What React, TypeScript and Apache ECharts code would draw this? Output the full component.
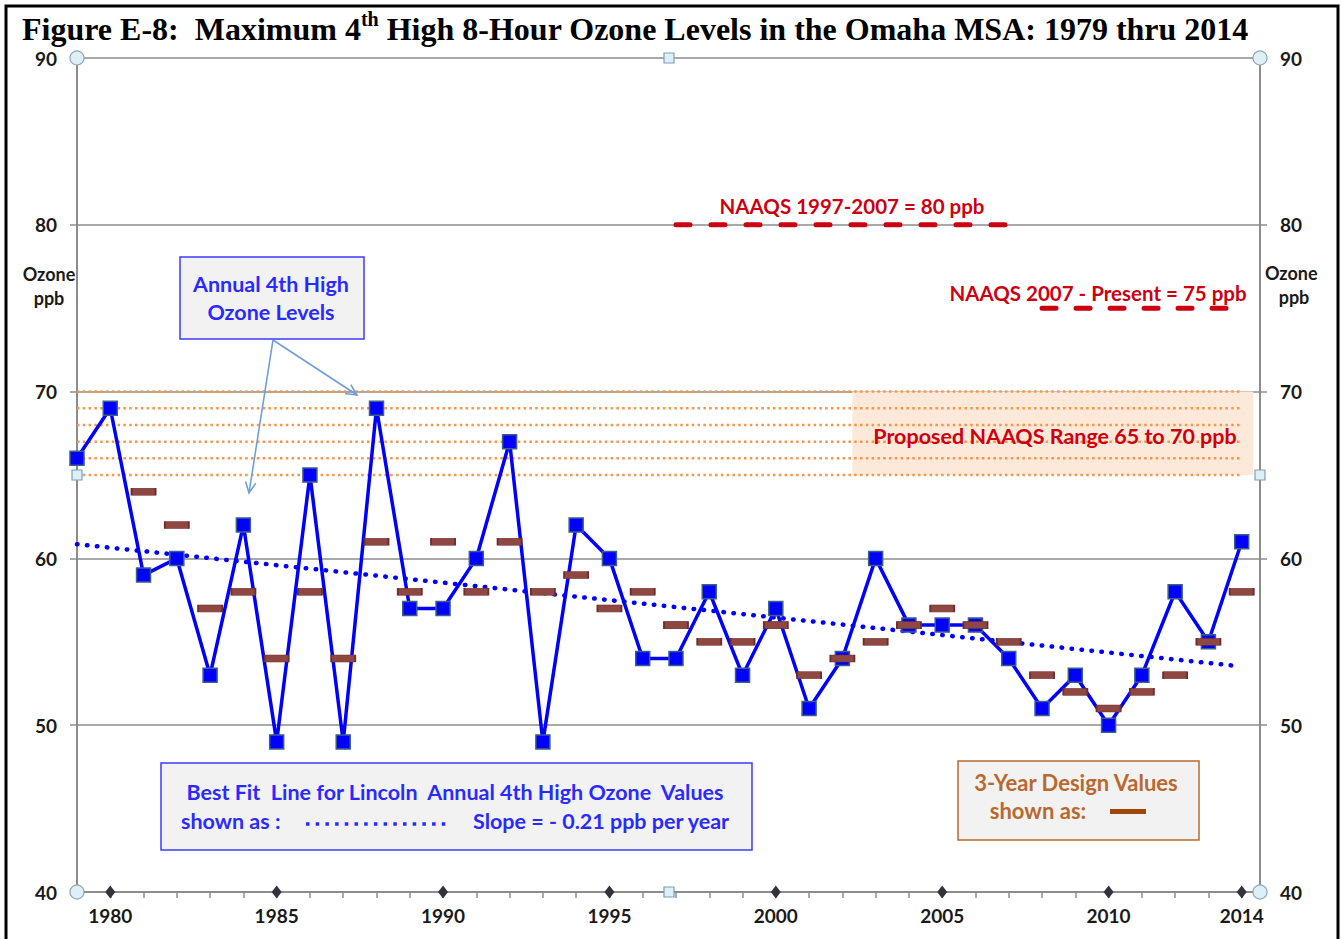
import React, { useEffect, useRef } from 'react';
import * as echarts from 'echarts';

// ---- data ----
const years = [1979, 1980, 1981, 1982, 1983, 1984, 1985, 1986, 1987, 1988, 1989, 1990, 1991, 1992, 1993, 1994, 1995, 1996, 1997, 1998, 1999, 2000, 2001, 2002, 2003, 2004, 2005, 2006, 2007, 2008, 2009, 2010, 2011, 2012, 2013, 2014];
const annual4thHigh = [66, 69, 59, 60, 53, 62, 49, 65, 49, 69, 57, 57, 60, 67, 49, 62, 60, 54, 54, 58, 53, 57, 51, 54, 60, 56, 56, 56, 54, 51, 53, 50, 53, 58, 55, 61];
const designYears = [1981, 1982, 1983, 1984, 1985, 1986, 1987, 1988, 1989, 1990, 1991, 1992, 1993, 1994, 1995, 1996, 1997, 1998, 1999, 2000, 2001, 2002, 2003, 2004, 2005, 2006, 2007, 2008, 2009, 2010, 2011, 2012, 2013, 2014];
const designValues = [64, 62, 57, 58, 54, 58, 54, 61, 58, 61, 58, 61, 58, 59, 57, 58, 56, 55, 55, 56, 53, 54, 55, 56, 57, 56, 55, 53, 52, 51, 52, 53, 55, 58];
const trendStart = [1979, 60.85];
const trendEnd = [2013.85, 53.55];
const labelYears = [1980, 1985, 1990, 1995, 2000, 2005, 2010, 2014];
const rangeLevels = [65, 66, 67, 68, 69, 70];
const rangeLineSpan = [1979, 2014];
const rangeShadeSpan = [2002.3, 2014.35];
const naaqs80 = { from: 1997, to: 2007, value: 80 };
const naaqs75 = { from: 2008, to: 2014, value: 75 };

const AXIS_FONT = 'Lato, "Open Sans", sans-serif';
const NOTE_FONT = 'Lato, "Open Sans", sans-serif';
const RED = '#cc0011';
const BLUE_TXT = '#2a2aff';
const BROWN_TXT = '#b8692e';
const GRAY = '#8c8c8c';

export default function App() {
  const ref = useRef<HTMLDivElement>(null);
  useEffect(() => {
    if (!ref.current) return;
    const chart = echarts.init(ref.current, undefined, { renderer: 'svg' });

    const axisLabelStyle = { fontSize: 19, fontWeight: 'bold', color: '#1a1a1a', fontFamily: AXIS_FONT };

    const rangeSeries = rangeLevels.map((lv) => ({
      type: 'line',
      data: [[rangeLineSpan[0], lv], [rangeLineSpan[1], lv]],
      symbol: 'none',
      z: 3,
      silent: true,
      lineStyle: { color: '#f79646', width: 2.5, type: [2.5, 3.3] },
    }));

    const handleCircle = (x: number, y: number) => ({
      type: 'circle', shape: { cx: x, cy: y, r: 7 }, z: 100,
      style: { fill: '#dcf0f6', stroke: '#8aa6b6', lineWidth: 1.2 },
    });
    const handleSquare = (x: number, y: number) => ({
      type: 'rect', shape: { x: x - 5, y: y - 5, width: 10, height: 10 }, z: 100,
      style: { fill: '#dcf0f6', stroke: '#7f9fb5', lineWidth: 1.2 },
    });

    const arrowColor = '#6f9fd8';
    const arrow = (x1: number, y1: number, x2: number, y2: number) => {
      const ang = Math.atan2(y2 - y1, x2 - x1);
      const L = 12, W = 0.45;
      return [
        { type: 'line', shape: { x1, y1, x2, y2 }, z: 50, style: { stroke: arrowColor, lineWidth: 1.6 } },
        {
          type: 'polyline', z: 50,
          shape: { points: [[x2 - L * Math.cos(ang - W), y2 - L * Math.sin(ang - W)], [x2, y2], [x2 - L * Math.cos(ang + W), y2 - L * Math.sin(ang + W)]] },
          style: { stroke: arrowColor, lineWidth: 1.6, fill: 'none' },
        },
      ];
    };

    const txt = (x: number, y: number, text: string, size: number, color: string, align = 'center', weight: any = 'normal', family = NOTE_FONT) => ({
      type: 'text', x, y, z: 60,
      style: { text, fontSize: size, fontFamily: family, fontWeight: weight, fill: color, align, verticalAlign: 'middle' },
    });

    const option = {
      animation: false,
      backgroundColor: '#ffffff',
      grid: { left: 77, right: 82, top: 58, bottom: 47, containLabel: false },
      xAxis: {
        type: 'value', min: 1979, max: 2014.55, interval: 1,
        axisLine: { show: true, onZero: false, lineStyle: { color: GRAY, width: 2 } },
        axisTick: { show: true, length: 6, lineStyle: { color: GRAY, width: 1.5 } },
        axisLabel: {
          ...axisLabelStyle, margin: 14,
          formatter: (v: number) => (labelYears.includes(v) ? String(v) : ''),
        },
        splitLine: { show: false },
      },
      yAxis: [
        {
          type: 'value', min: 40, max: 90, interval: 10, position: 'left',
          axisLine: { show: true, lineStyle: { color: GRAY, width: 2 } },
          axisTick: { show: true, length: 7, lineStyle: { color: GRAY, width: 1.5 } },
          axisLabel: { ...axisLabelStyle, margin: 20 },
          splitLine: { show: true, lineStyle: { color: GRAY, width: 1.5 } },
        },
        {
          type: 'value', min: 40, max: 90, interval: 10, position: 'right',
          axisLine: { show: true, lineStyle: { color: GRAY, width: 2 } },
          axisTick: { show: true, length: 7, lineStyle: { color: GRAY, width: 1.5 } },
          axisLabel: { ...axisLabelStyle, margin: 20 },
          splitLine: { show: false },
        },
      ],
      series: [
        {
          type: 'line', data: [], z: 1, silent: true,
          markArea: {
            silent: true,
            itemStyle: { color: '#fde9d9' },
            data: [[{ xAxis: rangeShadeSpan[0], yAxis: rangeLevels[0] }, { xAxis: rangeShadeSpan[1], yAxis: rangeLevels[rangeLevels.length - 1] }]],
          },
        },
        ...rangeSeries,
        {
          type: 'line', symbol: 'none', z: 4, silent: true,
          data: [[naaqs80.from, naaqs80.value], [naaqs80.to, naaqs80.value]],
          lineStyle: { color: RED, width: 5, type: [14, 21], cap: 'round' },
        },
        {
          type: 'line', symbol: 'none', z: 4, silent: true,
          data: [[naaqs75.from, naaqs75.value], [naaqs75.to, naaqs75.value]],
          lineStyle: { color: RED, width: 5, type: [14, 20], cap: 'round' },
        },
        {
          type: 'line', symbol: 'none', z: 5, silent: true,
          data: [trendStart, trendEnd],
          lineStyle: { color: '#0000ff', width: 4.5, type: [0.5, 9.5], cap: 'round' },
        },
        {
          type: 'line', z: 6,
          data: years.map((y, i) => [y, annual4thHigh[i]]),
          symbol: 'rect', symbolSize: 14,
          itemStyle: { color: '#0000ff', borderColor: '#3a5f8a', borderWidth: 1.5 },
          lineStyle: { color: '#0000ff', width: 3.5 },
        },
        {
          type: 'scatter', z: 7,
          data: designYears.map((y, i) => [y, designValues[i]]),
          symbol: 'rect', symbolSize: [24, 7],
          itemStyle: { color: '#8f4742', borderColor: '#6e2d2d', borderWidth: 1, opacity: 1 },
        },
        {
          type: 'scatter', z: 8, clip: false, silent: true,
          data: labelYears.map((y) => [y, 40]),
          symbol: 'diamond', symbolSize: [10, 13],
          itemStyle: { color: '#34333d', opacity: 1 },
        },
      ],
      graphic: [
        // frame
        { type: 'rect', shape: { x: 6, y: 6, width: 1332, height: 960 }, z: 200, style: { fill: 'none', stroke: '#000', lineWidth: 3 } },
        // title
        {
          type: 'text', x: 22, y: 27, z: 60,
          style: {
            text: '{a|Figure E-8:  Maximum 4}{s|th}{a| High 8-Hour Ozone Levels in the Omaha MSA: 1979 thru 2014}',
            verticalAlign: 'middle',
            rich: {
              a: { fontFamily: '"Liberation Serif", serif', fontWeight: 'bold', fontSize: 32, fill: '#000', lineHeight: 36, verticalAlign: 'bottom' },
              s: { fontFamily: '"Liberation Serif", serif', fontWeight: 'bold', fontSize: 20, fill: '#000', lineHeight: 36, verticalAlign: 'top' },
            },
          },
        },
        // Ozone ppb labels
        txt(49, 274, 'Ozone', 18, '#1a1a1a', 'center', 'bold', AXIS_FONT),
        txt(49, 298, 'ppb', 18, '#1a1a1a', 'center', 'bold', AXIS_FONT),
        txt(1265, 273, 'Ozone', 18, '#1a1a1a', 'left', 'bold', AXIS_FONT),
        txt(1294, 297, 'ppb', 18, '#1a1a1a', 'center', 'bold', AXIS_FONT),
        // NAAQS labels
        txt(852, 206, 'NAAQS 1997-2007 = 80 ppb', 20.5, RED, 'center', 'bold'),
        txt(1098, 293, 'NAAQS 2007 - Present = 75 ppb', 20.5, RED, 'center', 'bold'),
        txt(1055, 436, 'Proposed NAAQS Range 65 to 70 ppb', 21.5, RED, 'center', 'bold'),
        // Annual 4th high box
        { type: 'rect', shape: { x: 180, y: 257, width: 184, height: 82 }, z: 55, style: { fill: '#f2f2f2', stroke: '#3b3bff', lineWidth: 1.5 } },
        txt(271, 284, 'Annual 4th High', 21.5, BLUE_TXT, 'center', 'bold'),
        txt(271, 312, 'Ozone Levels', 21.5, BLUE_TXT, 'center', 'bold'),
        ...arrow(273, 340, 249, 493),
        ...arrow(273, 340, 357, 395),
        // best fit box
        { type: 'rect', shape: { x: 161, y: 763, width: 591, height: 87 }, z: 55, style: { fill: '#f2f2f2', stroke: '#3b3bff', lineWidth: 1.5 } },
        txt(455, 792, 'Best Fit  Line for Lincoln  Annual 4th High Ozone  Values', 21.5, BLUE_TXT, 'center', 'bold'),
        txt(181, 821, 'shown as :', 21.5, BLUE_TXT, 'left', 'bold'),
        { type: 'line', shape: { x1: 306, y1: 824, x2: 450, y2: 824 }, z: 60, style: { stroke: BLUE_TXT, lineWidth: 3.5, lineDash: [3.5, 6.2] } },
        txt(473, 821, 'Slope = - 0.21 ppb per year', 21.5, BLUE_TXT, 'left', 'bold'),
        // design values box
        { type: 'rect', shape: { x: 958, y: 761, width: 241, height: 79 }, z: 55, style: { fill: '#f2f2f2', stroke: BROWN_TXT, lineWidth: 1.5 } },
        txt(1076, 782, '3-Year Design Values', 22, BROWN_TXT, 'center', 'bold'),
        txt(1038, 810, 'shown as:', 22, BROWN_TXT, 'center', 'bold'),
        { type: 'rect', shape: { x: 1110, y: 809, width: 36, height: 5 }, z: 60, style: { fill: '#a0460a' } },
        // selection handles
        handleCircle(77, 58), handleCircle(1260, 58), handleCircle(77, 892), handleCircle(1260, 892),
        handleSquare(669, 58), handleSquare(669, 892), handleSquare(77, 475), handleSquare(1260, 475),
      ],
    };
    chart.setOption(option as any);
    return () => chart.dispose();
  }, []);
  return <div ref={ref} style={{ position: 'fixed', left: 0, top: 0, width: 1342, height: 939, background: '#fff' }} />;
}
